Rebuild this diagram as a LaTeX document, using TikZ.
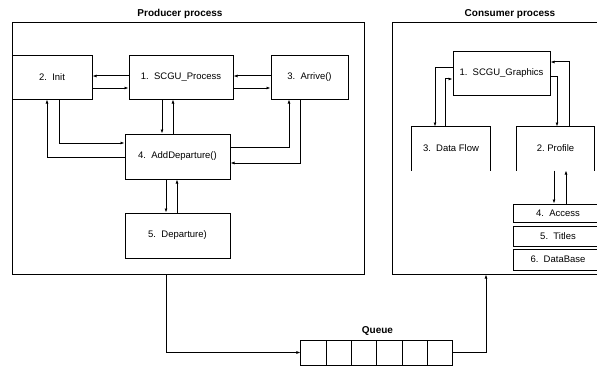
\documentclass[tikz,border=0pt]{standalone}
\usepackage{fontspec}
\setmainfont{Liberation Sans}
\usetikzlibrary{arrows.meta,positioning}

\tikzset{
  box/.style={draw, inner sep=0pt, font=\fontsize{9.5}{11}\selectfont},
  openbox/.style={inner sep=0pt, minimum height=43pt, font=\fontsize{9.5}{11}\selectfont},
  frame/.style={draw, inner sep=0pt},
  title/.style={font=\fontsize{10}{12}\selectfont\bfseries},
  cell/.style={draw, minimum width=25.33pt, minimum height=25pt, inner sep=0pt}
}

\begin{document}
\begin{tikzpicture}[->,>={Latex[length=4pt,width=3pt]},x=1pt,y=-1pt,line width=1pt]
  \useasboundingbox (0,0) rectangle (597,369);
  % producer process
  \node[frame, minimum width=352pt, minimum height=251pt,
        label={[title,xshift=-8pt,label distance=0.5pt]above:Producer process}] (prod) at (188,148.5) {};
  \node[box, minimum width=80pt, minimum height=43pt] (init) at (52,77.5) {2.\ \ Init};
  \node[box, minimum width=104pt, minimum height=43pt] (proc) at (181,77.5) {1.\ \ SCGU\_Process};
  \node[box, minimum width=77pt, minimum height=43pt] (arrive) at (309.5,77.5) {3.\ \ Arrive()};
  \node[box, minimum width=105pt, minimum height=45pt] (adddep) at (177.5,156.5) {4.\ \ AddDeparture()};
  \node[box, minimum width=105pt, minimum height=45pt] (dep) at (177.5,235.5) {5.\ \ Departure)};
  \draw ([yshift=1.5pt]proc.west) -- ([yshift=1.5pt]init.east);
  \draw ([yshift=-10.5pt]init.east) -- ([yshift=-10.5pt]proc.west);
  \draw ([yshift=1.5pt]arrive.west) -- ([yshift=1.5pt]proc.east);
  \draw ([yshift=-10.5pt]proc.east) -- ([yshift=-10.5pt]arrive.west);
  \draw ([xshift=-19pt]proc.south) -- ([xshift=-15.5pt]adddep.north);
  \draw ([xshift=-4.5pt]adddep.north) -- ([xshift=-8pt]proc.south);
  \draw ([xshift=7pt]init.south) |- ([yshift=13.5pt]adddep.west);
  \draw ([yshift=-0.5pt]adddep.west) -| ([xshift=-5pt]init.south);
  \draw ([yshift=9.5pt]adddep.east) -| ([xshift=-20.5pt]arrive.south);
  \draw ([xshift=-9.5pt]arrive.south) |- ([yshift=-6.5pt]adddep.east);
  \draw ([xshift=-11.5pt]adddep.south) -- ([xshift=-11.5pt]dep.north);
  \draw ([xshift=-0.5pt]dep.north) -- ([xshift=-0.5pt]adddep.south);

  % consumer process
  \node[frame, minimum width=213pt, minimum height=251pt,
        label={[title,xshift=11.5pt,label distance=0.5pt]above:Consumer process}] (cons) at (498.5,148.5) {};
  \node[box, minimum width=97pt, minimum height=43pt] (graph) at (501.5,73.5) {1.\ \ SCGU\_Graphics};
  \node[openbox, minimum width=78pt] (flow) at (451,148.5) {3.\ \ Data Flow};
  \node[openbox, minimum width=77pt] (profile) at (555.5,148.5) {2.\ Profile};
  \draw[-] (flow.south west) |- (flow.north east) -- (flow.south east);
  \draw[-] (profile.south west) |- (profile.north east) -- (profile.south east);
  \node[box, minimum width=90pt, minimum height=18pt] (access) at (558,213) {4.\ \ Access};
  \node[box, minimum width=90pt, minimum height=20pt] (titles) at (558,236) {5.\ \ Titles};
  \node[box, minimum width=90pt, minimum height=21pt] (database) at (558,259.5) {6.\ \ DataBase};
  \draw ([yshift=5.5pt]graph.west) -| ([xshift=-16pt]flow.north);
  \draw ([xshift=-6pt]flow.north) |- ([yshift=-5.5pt]graph.west);
  \draw ([yshift=-3.5pt]graph.east) -| ([xshift=1.5pt]profile.north);
  \draw ([xshift=13.5pt]profile.north) |- ([yshift=11.5pt]graph.east);
  \draw ([xshift=-1.5pt]profile.south) -- ([xshift=-4pt]access.north);
  \draw ([xshift=8pt]access.north) -- ([xshift=10.5pt]profile.south);

  % queue
  \foreach \i in {1,...,6}
    \node[cell] (q\i) at ({288.33+25.33*\i},352.5) {};
  \node[title, above=0pt] (queue) at (q3.north east) {Queue};
  \draw ([xshift=-22pt]prod.south) |- (q1.west);
  \draw (q6.east) -| ([xshift=-12.5pt]cons.south);
\end{tikzpicture}
\end{document}
